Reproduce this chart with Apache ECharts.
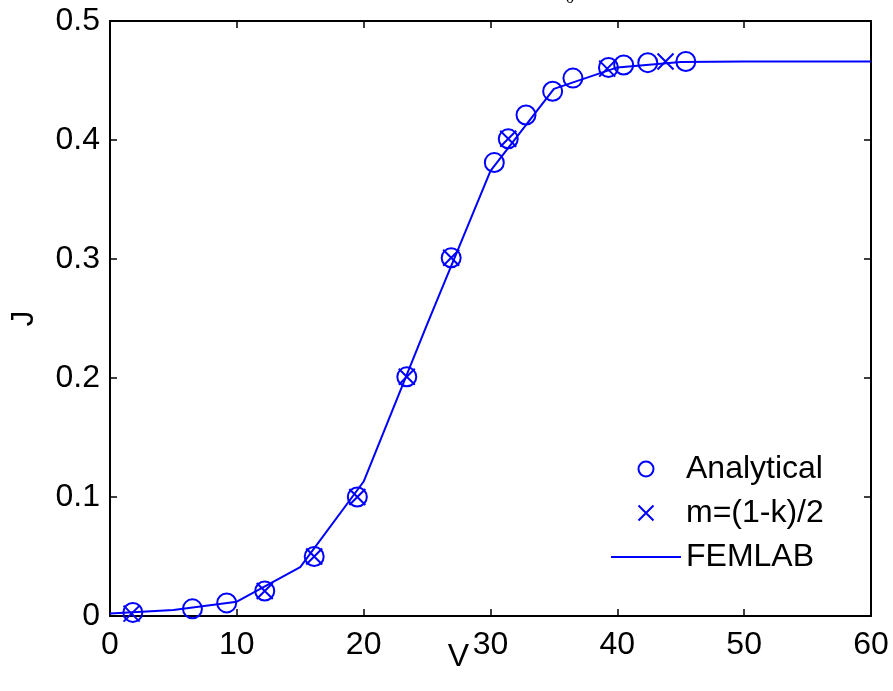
<!DOCTYPE html>
<html>
<head>
<meta charset="utf-8">
<script src="https://cdn.jsdelivr.net/npm/echarts@6/dist/echarts.min.js"></script>
<style>html,body{margin:0;padding:0;background:#fff}#c{width:893px;height:691px}</style>
</head>
<body>
<div id="c"></div>
<script>
// Analytical (circles)
const analyticalV = [1.8, 6.5, 9.2, 12.2, 16.1, 19.5, 23.4, 26.9, 30.3, 31.4, 32.8, 34.9, 36.5, 39.3, 40.5, 42.4, 45.4];
const analyticalJ = [0.003, 0.006, 0.011, 0.021, 0.05, 0.1, 0.201, 0.301, 0.381, 0.401, 0.421, 0.441, 0.452, 0.461, 0.463, 0.465, 0.466];
// m=(1-k)/2 (crosses)
const crossV = [1.7, 12.2, 16.1, 19.5, 23.4, 26.9, 31.4, 39.2, 43.8];
const crossJ = [0.002, 0.021, 0.05, 0.1, 0.201, 0.301, 0.401, 0.46, 0.466];
// FEMLAB (line)
const femlabV = [0, 5, 10, 15, 20, 25, 30, 35, 40, 45, 50, 55, 60];
const femlabJ = [0.002, 0.005, 0.012, 0.041, 0.113, 0.245, 0.374, 0.443, 0.461, 0.4655, 0.466, 0.466, 0.466];
const xTicks = [0, 10, 20, 30, 40, 50, 60];
const yTicks = [0, 0.1, 0.2, 0.3, 0.4, 0.5];

const zip = (a, b) => a.map((v, i) => [v, b[i]]);
const BLUE = '#0000ff';
const FONT = 'Liberation Sans, Arial, sans-serif';
const FS = 32;

const chart = echarts.init(document.getElementById('c'), null, {renderer: 'canvas'});
const baseAxis = {
  type: 'value',
  axisLine: {show: true, onZero: false, lineStyle: {color: '#000', width: 2}},
  axisTick: {show: true, inside: true, length: 7, lineStyle: {color: '#000', width: 1.5}},
  splitLine: {show: false}
};
chart.setOption({
  animation: false,
  backgroundColor: '#fff',
  grid: {left: 110, right: 22, top: 21, bottom: 75, containLabel: false, outerBoundsMode: 'none'},
  xAxis: [
    Object.assign({}, baseAxis, {
      position: 'bottom', min: xTicks[0], max: xTicks[xTicks.length - 1], interval: 10,
      name: 'V', nameLocation: 'middle', nameGap: 25, nameMoveOverlap: false,
      nameTextStyle: {fontFamily: FONT, fontSize: FS, color: '#000', padding: [0, 64, 0, 0]},
      axisLabel: {fontFamily: FONT, fontSize: FS, color: '#000', margin: 13}
    }),
    Object.assign({}, baseAxis, {
      position: 'top', min: xTicks[0], max: xTicks[xTicks.length - 1], interval: 10,
      axisLabel: {show: false}
    })
  ],
  yAxis: [
    Object.assign({}, baseAxis, {
      position: 'left', min: yTicks[0], max: yTicks[yTicks.length - 1], interval: 0.1,
      name: 'J', nameLocation: 'middle', nameGap: 70, nameRotate: 90, nameMoveOverlap: false,
      nameTextStyle: {fontFamily: FONT, fontSize: FS, color: '#000'},
      axisLabel: {fontFamily: FONT, fontSize: FS, color: '#000', margin: 10}
    }),
    Object.assign({}, baseAxis, {
      position: 'right', min: yTicks[0], max: yTicks[yTicks.length - 1], interval: 0.1,
      axisLabel: {show: false}
    })
  ],
  legend: {
    orient: 'vertical', left: 605, top: 448,
    itemWidth: 70, itemHeight: 15, itemGap: 12,
    textStyle: {fontFamily: FONT, fontSize: FS, color: '#000'},
    data: ['Analytical', 'm=(1-k)/2', {name: 'FEMLAB', itemStyle: {opacity: 0}}]
  },
  graphic: [{
    type: 'text', x: 570, y: -2,
    style: {text: '0', fontFamily: 'Liberation Serif, serif', fontSize: 18, fill: '#000', align: 'center', verticalAlign: 'middle'}
  }],
  series: [
    {
      name: 'FEMLAB', type: 'line', data: zip(femlabV, femlabJ), symbol: 'none',
      lineStyle: {color: BLUE, width: 2}, itemStyle: {color: BLUE}, z: 2
    },
    {
      name: 'Analytical', type: 'scatter', data: zip(analyticalV, analyticalJ),
      symbol: 'circle', symbolSize: 19,
      itemStyle: {color: 'rgba(0,0,0,0)', borderColor: BLUE, borderWidth: 2, opacity: 1}, z: 3
    },
    {
      name: 'm=(1-k)/2', type: 'scatter', data: zip(crossV, crossJ),
      symbol: 'path://M0,0L10,10M0,10L10,0', symbolSize: 16,
      itemStyle: {color: 'rgba(0,0,0,0)', borderColor: BLUE, borderWidth: 2, opacity: 1}, z: 4
    }
  ]
});
</script>
</body>
</html>
